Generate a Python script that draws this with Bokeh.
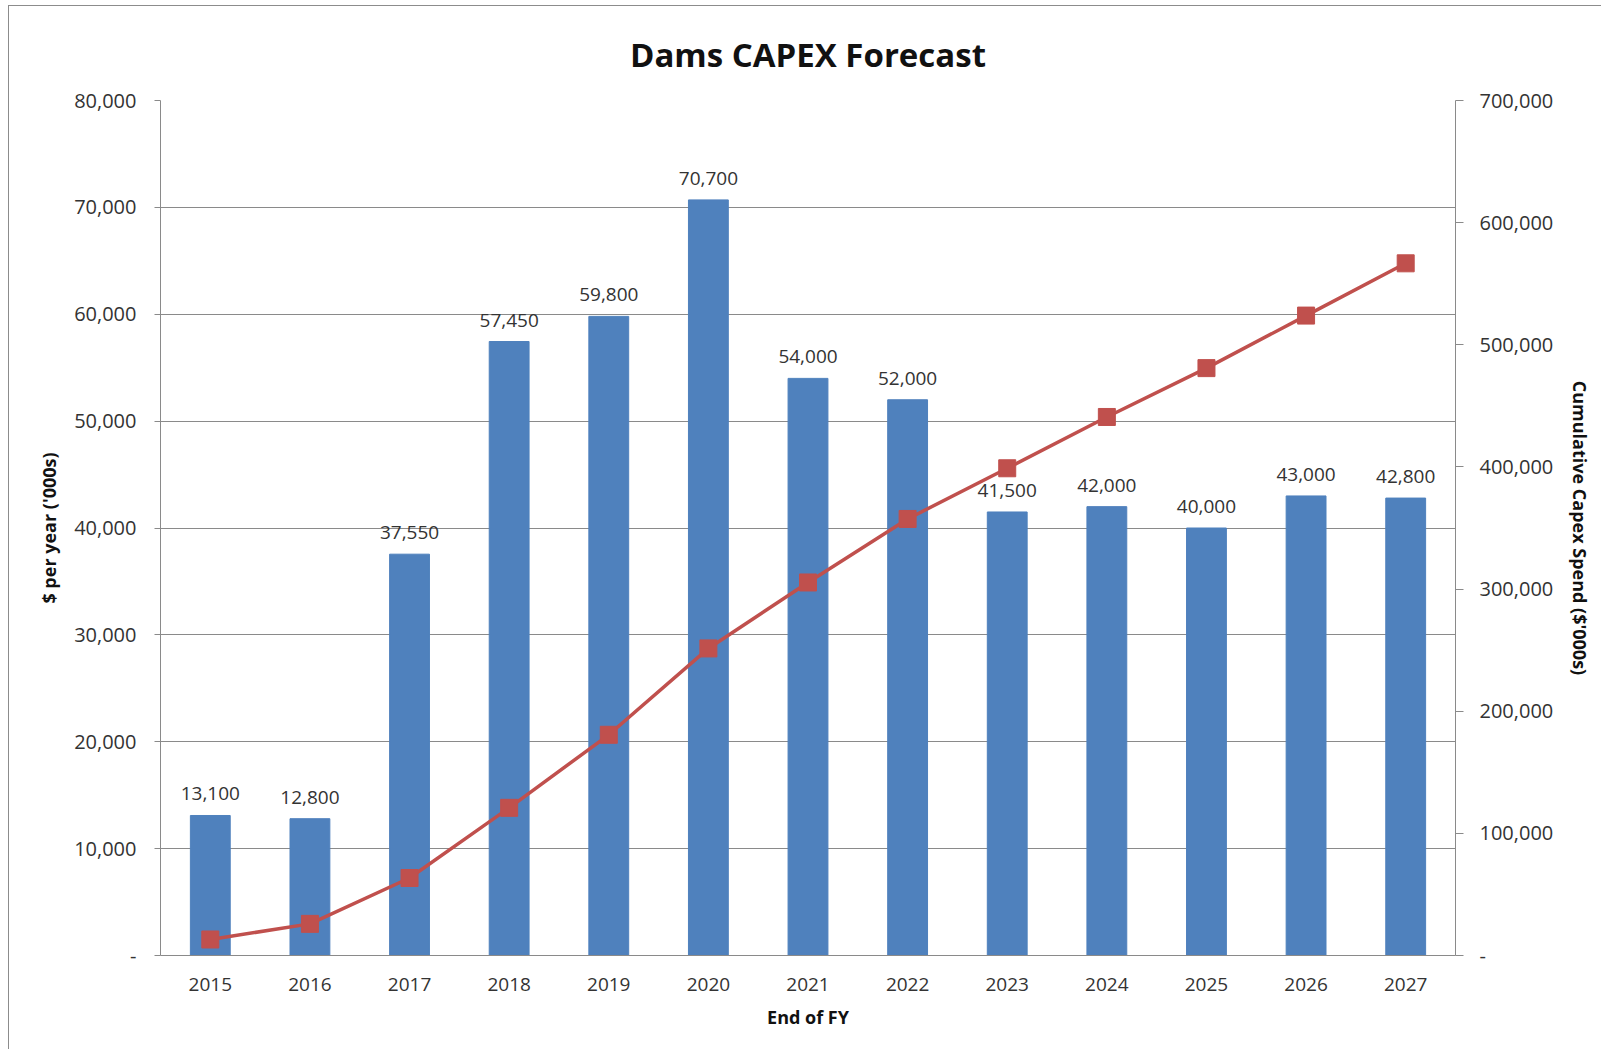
from bokeh.plotting import figure
from bokeh.models import (ColumnDataSource, Range1d, LinearAxis, FixedTicker,
                          NumeralTickFormatter, FactorRange)
from bokeh.core.properties import value
from bokeh.embed import file_html
from bokeh.resources import INLINE

# ---- data ----
years = ["2015", "2016", "2017", "2018", "2019", "2020", "2021",
         "2022", "2023", "2024", "2025", "2026", "2027"]
annual_spend = [13100, 12800, 37550, 57450, 59800, 70700, 54000,
                52000, 41500, 42000, 40000, 43000, 42800]
cumulative_spend = [13100, 25900, 63450, 120900, 180700, 251400, 305400,
                    357400, 398900, 440900, 480900, 523900, 566700]
left_ticks = [0, 10000, 20000, 30000, 40000, 50000, 60000, 70000, 80000]
right_ticks = [0, 100000, 200000, 300000, 400000, 500000, 600000, 700000]
title_text = "Dams CAPEX Forecast"

FONT = "Open Sans"
TXT = "#333333"
GRID = "#8a8a8a"
BLUE = "#4F81BD"
RED = "#C0504D"

src = ColumnDataSource(dict(
    year=years,
    spend=annual_spend,
    cum=cumulative_spend,
    label=[f"{v:,}" for v in annual_spend],
))

W, H = 1593, 1044
ML, MT, FW, FH = 151, 93, 1295, 856
p = figure(
    x_range=FactorRange(*years, range_padding=0),
    y_range=Range1d(0, 80000),
    width=W, height=H,
    output_backend="svg", toolbar_location=None,
    min_border_left=ML, min_border_right=W - ML - FW,
    min_border_top=MT, min_border_bottom=H - MT - FH,
    title=title_text,
)
p.margin = (5, 0, 0, 8)
p.styles = {"border-left": "1px solid #8c8c8c", "border-top": "1px solid #8c8c8c"}
p.extra_y_ranges = {"cum": Range1d(0, 700000)}
p.outline_line_color = None
p.background_fill_color = "white"
p.border_fill_color = "white"

# title
p.title.align = "center"
p.title.vertical_align = "bottom"
p.title.text_font = FONT
p.title.text_font_size = "33px"
p.title.text_font_style = "bold"
p.title.text_color = "#111111"
p.title.standoff = 47

# bars
p.vbar(x="year", top="spend", width=0.4, source=src, color=BLUE)

# data labels
p.text(x="year", y="spend", text="label", source=src,
       text_align="center", text_baseline="bottom", y_offset=-15,
       text_font=value(FONT), text_font_size="19px", text_color=TXT)

# cumulative line
p.line(x="year", y="cum", source=src, y_range_name="cum",
       line_color=RED, line_width=3.5)
p.scatter(x="year", y="cum", source=src, y_range_name="cum",
          marker="square", size=17, fill_color=RED, line_color=RED)

# left axis
la = p.yaxis[0]
la.ticker = FixedTicker(ticks=left_ticks)
la.formatter = NumeralTickFormatter(format="0,0")
la.major_label_overrides = {0: "-"}
la.axis_label = "$ per year ('000s)"
la.axis_label_text_font = FONT
la.axis_label_text_font_style = "bold"
la.axis_label_text_font_size = "18px"
la.axis_label_text_color = "#111111"
la.axis_label_standoff = 10
la.major_label_text_font = FONT
la.major_label_text_font_size = "20px"
la.major_label_text_color = TXT
la.major_label_standoff = 18
la.major_tick_in = 0
la.major_tick_out = 6
la.minor_tick_in = 0
la.minor_tick_out = 0
la.axis_line_color = GRID
la.major_tick_line_color = GRID

# right axis
ra = LinearAxis(y_range_name="cum")
ra.ticker = FixedTicker(ticks=right_ticks)
ra.formatter = NumeralTickFormatter(format="0,0")
ra.major_label_overrides = {0: "-"}
ra.axis_label = "Cumulative Capex Spend ($'000s)"
ra.axis_label_text_font = FONT
ra.axis_label_text_font_style = "bold"
ra.axis_label_text_font_size = "18px"
ra.axis_label_text_color = "#111111"
ra.axis_label_standoff = 12
ra.major_label_text_font = FONT
ra.major_label_text_font_size = "20px"
ra.major_label_text_color = TXT
ra.major_label_standoff = 16
ra.major_tick_in = 0
ra.major_tick_out = 8
ra.minor_tick_in = 0
ra.minor_tick_out = 0
ra.axis_line_color = GRID
ra.major_tick_line_color = GRID
p.add_layout(ra, "right")

# x axis
xa = p.xaxis[0]
xa.axis_label = "End of FY"
xa.axis_label_text_font = FONT
xa.axis_label_text_font_style = "bold"
xa.axis_label_text_font_size = "18px"
xa.axis_label_text_color = "#111111"
xa.axis_label_standoff = 11
xa.major_label_text_font = FONT
xa.major_label_text_font_size = "19px"
xa.major_label_text_color = TXT
xa.major_label_standoff = 22
xa.major_tick_in = 0
xa.major_tick_out = 0
xa.axis_line_color = GRID

# grid
p.xgrid.grid_line_color = None
p.ygrid.ticker = FixedTicker(ticks=left_ticks)
p.ygrid.grid_line_color = GRID
p.ygrid.grid_line_width = 1

open("out.html", "w").write(file_html(p, INLINE))
